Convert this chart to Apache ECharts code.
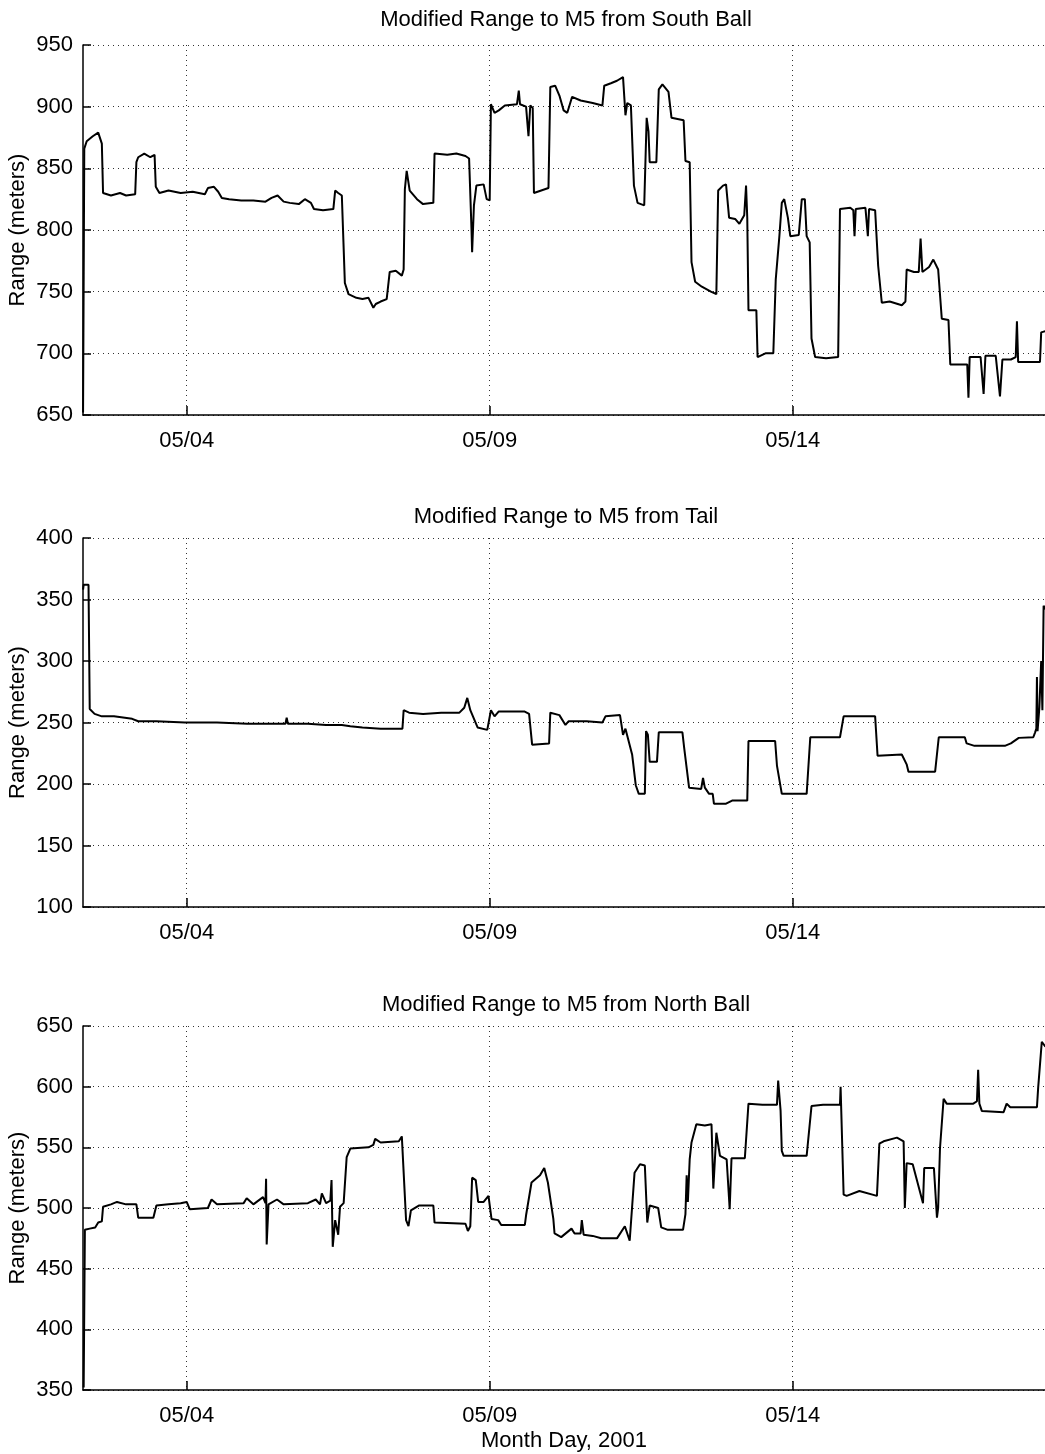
<!DOCTYPE html>
<html><head><meta charset="utf-8">
<script src="https://cdn.jsdelivr.net/npm/echarts@6/dist/echarts.min.js"></script>
<style>html,body{margin:0;padding:0;background:#fff}#c{width:1045px;height:1454px}</style>
</head><body><div id="c"></div>
<script>
// x values are day of May 2001 (fractional)
const xTickDays = [4, 9, 14];
const xTickLabels = ['05/04', '05/09', '05/14'];
const xMin = 2.289, xMax = 18.163;

const titles = ['Modified Range to M5 from South Ball', 'Modified Range to M5 from Tail', 'Modified Range to M5 from North Ball'];
const yName = 'Range (meters)';
const xName = 'Month Day, 2001';
const yRanges = [[650, 950], [100, 400], [350, 650]];

const southBall = [
[2.29,652],[2.31,866],[2.35,872],[2.45,876],[2.54,879],[2.60,870],[2.62,830],[2.75,828],[2.9,830],[3.0,828],[3.15,829],
[3.17,855],[3.2,859],[3.3,862],[3.4,859],[3.47,861],[3.49,835],[3.55,830],[3.7,832],[3.9,830],[4.1,831],[4.3,829],
[4.35,834],[4.45,835],[4.52,831],[4.58,826],[4.7,825],[4.9,824],[5.1,824],[5.3,823],[5.4,826],[5.5,828],[5.6,823],
[5.7,822],[5.85,821],[5.95,825],[6.05,822],[6.1,817],[6.25,816],[6.42,817],[6.45,832],[6.5,830],[6.56,828],[6.61,757],
[6.67,748],[6.8,745],[6.9,744],[7.0,745],[7.08,737],[7.12,740],[7.2,742],[7.3,744],[7.35,766],[7.45,767],[7.55,763],
[7.58,768],[7.6,833],[7.63,848],[7.68,832],[7.8,825],[7.9,821],[8.07,822],[8.09,862],[8.3,861],[8.45,862],[8.6,860],
[8.66,858],[8.7,800],[8.71,782],[8.74,820],[8.78,836],[8.9,837],[8.95,825],[9.0,824],[9.02,902],[9.08,895],[9.15,897],
[9.25,901],[9.45,902],[9.48,913],[9.5,902],[9.6,900],[9.64,876],[9.67,901],[9.71,899],[9.73,830],[9.85,832],[9.97,834],
[10.0,916],[10.08,917],[10.15,909],[10.22,897],[10.28,895],[10.36,908],[10.5,905],[10.7,903],[10.86,901],[10.89,917],
[11.0,919],[11.1,921],[11.2,924],[11.24,893],[11.27,903],[11.33,901],[11.38,836],[11.44,822],[11.55,820],[11.59,891],
[11.62,880],[11.64,855],[11.75,855],[11.79,914],[11.85,918],[11.95,912],[12.0,891],[12.2,889],[12.23,856],[12.3,855],
[12.33,774],[12.39,758],[12.5,754],[12.65,750],[12.74,748],[12.77,832],[12.85,836],[12.9,837],[12.95,810],[13.05,809],
[13.12,805],[13.2,812],[13.23,836],[13.25,810],[13.27,735],[13.4,735],[13.42,697],[13.55,700],[13.68,700],[13.72,760],
[13.78,795],[13.82,822],[13.86,825],[13.92,810],[13.96,795],[14.1,796],[14.15,825],[14.2,825],[14.23,795],[14.28,790],
[14.31,712],[14.37,697],[14.55,696],[14.75,697],[14.78,817],[14.95,818],[15.0,816],[15.02,795],[15.04,817],[15.2,818],
[15.24,795],[15.26,817],[15.36,816],[15.41,771],[15.47,741],[15.6,742],[15.8,739],[15.86,742],[15.88,768],[16.0,766],
[16.08,766],[16.11,793],[16.14,766],[16.25,770],[16.32,776],[16.4,768],[16.46,728],[16.57,727],[16.6,691],[16.75,691],
[16.88,691],[16.9,664],[16.92,697],[17.1,697],[17.15,667],[17.18,698],[17.35,698],[17.42,665],[17.46,695],[17.6,695],
[17.68,697],[17.7,726],[17.72,693],[17.9,693],[18.08,693],[18.1,717],[18.17,718]
];

const tail = [
[2.29,358],[2.3,362],[2.38,362],[2.4,261],[2.48,257],[2.6,255],[2.8,255],[3.1,253],[3.2,251],[3.5,251],[3.97,250],
[4.5,250],[5.0,249],[5.4,249],[5.63,249],[5.65,254],[5.67,249],[6.0,249],[6.3,248],[6.56,248],[6.7,247],[6.9,246],
[7.2,245],[7.5,245],[7.56,245],[7.58,260],[7.67,258],[7.9,257],[8.2,258],[8.5,258],[8.58,262],[8.63,270],[8.68,260],
[8.8,246],[8.96,244],[9.02,260],[9.08,255],[9.15,259],[9.4,259],[9.57,259],[9.65,257],[9.7,232],[9.98,233],[10.0,258],
[10.15,256],[10.25,248],[10.3,251],[10.6,251],[10.86,250],[10.91,255],[11.15,256],[11.2,240],[11.24,245],[11.35,224],
[11.41,199],[11.46,192],[11.56,192],[11.58,243],[11.61,240],[11.64,218],[11.76,218],[11.79,242],[12.18,242],[12.21,229],
[12.29,197],[12.49,196],[12.52,205],[12.55,197],[12.62,192],[12.68,192],[12.7,184],[12.9,184],[13.0,186.5],[13.25,186.5],
[13.27,235],[13.71,235],[13.74,215],[13.82,192],[14.23,192],[14.29,238],[14.78,238],[14.84,255],[15.36,255],[15.4,223],
[15.8,224],[15.88,216],[15.91,210],[16.35,210],[16.41,238],[16.84,238],[16.87,233],[17.0,231],[17.5,231],[17.6,233],
[17.73,237.5],[17.97,238],[18.0,242],[18.02,245],[18.03,287],[18.04,243],[18.07,262],[18.1,300],[18.12,260],[18.14,345],
[18.17,342]
];

const northBall = [
[2.30,352],[2.32,482],[2.4,483],[2.49,484],[2.54,488],[2.6,489],[2.62,501],[2.75,503],[2.85,505],[3.0,503],[3.17,503],
[3.2,492],[3.45,492],[3.5,502],[3.7,503],[3.9,504],[4.0,505],[4.05,499],[4.35,500],[4.41,507],[4.5,503],[4.94,504],
[4.99,508],[5.1,503],[5.26,509],[5.3,504],[5.31,524],[5.32,470],[5.35,503],[5.49,507],[5.6,503],[6.0,504],[6.13,507],
[6.2,503],[6.23,512],[6.3,504],[6.37,506],[6.39,523],[6.41,468],[6.45,490],[6.5,478],[6.53,501],[6.59,504],[6.64,542],
[6.7,549],[7.0,550],[7.08,552],[7.11,557],[7.2,554],[7.5,555],[7.55,559],[7.58,558],[7.62,490],[7.66,485],[7.7,498],
[7.83,502],[8.07,502],[8.09,488],[8.6,487],[8.64,481],[8.68,485],[8.71,525],[8.77,523],[8.81,505],[8.9,505],[8.98,510],
[9.03,491],[9.14,490],[9.19,486],[9.58,486],[9.6,494],[9.69,521],[9.83,527],[9.9,533],[9.96,521],[10.05,491],[10.07,479],
[10.18,476],[10.35,483],[10.4,479],[10.5,479],[10.52,490],[10.55,478],[10.7,477],[10.84,475],[11.1,475],[11.23,485],
[11.31,473],[11.39,529],[11.48,536],[11.56,535],[11.6,488],[11.64,502],[11.78,500],[11.83,484],[11.94,482],[12.19,482],
[12.23,495],[12.25,527],[12.27,505],[12.3,540],[12.33,554],[12.41,569],[12.55,568],[12.66,569],[12.69,516],[12.74,562],
[12.8,543],[12.91,540],[12.96,499],[12.99,541],[13.21,541],[13.27,586],[13.5,585],[13.74,585],[13.76,605],[13.8,580],
[13.82,547],[13.85,543],[14.23,543],[14.31,584],[14.5,585],[14.78,585],[14.79,600],[14.84,511],[14.89,510],[15.1,514],
[15.39,510],[15.43,553],[15.5,555],[15.72,558],[15.83,555],[15.85,500],[15.88,537],[15.98,536],[16.15,504],[16.17,533],
[16.33,533],[16.38,492],[16.4,500],[16.43,549],[16.49,590],[16.54,586],[16.98,586],[17.04,588],[17.06,614],[17.08,586],
[17.12,580],[17.48,579],[17.53,586],[17.59,583],[18.03,583],[18.05,599],[18.11,637],[18.17,633]
];

const seriesData = [southBall, tail, northBall];

const FONT = 'Liberation Sans, Arial, sans-serif';
const FS = 22;
const gridBoxes = [
  {left: 83, width: 962, top: 45, height: 370, containLabel: false, outerBoundsMode: 'none'},
  {left: 83, width: 962, top: 538, height: 369, containLabel: false, outerBoundsMode: 'none'},
  {left: 83, width: 962, top: 1026, height: 364, containLabel: false, outerBoundsMode: 'none'}
];
const titleTops = [9, 506, 994];

const option = {
  animation: false,
  backgroundColor: '#fff',
  title: titles.map((t, i) => ({
    text: t, left: 566, top: titleTops[i], textAlign: 'center', padding: 0,
    textStyle: {fontFamily: FONT, fontSize: FS, fontWeight: 'normal', color: '#000'}
  })),
  grid: gridBoxes,
  xAxis: gridBoxes.map((g, i) => ({
    type: 'value', gridIndex: i, min: xMin, max: xMax,
    name: i === 2 ? xName : '', nameLocation: 'middle', nameGap: 40, nameMoveOverlap: false,
    nameTextStyle: {fontFamily: FONT, fontSize: FS, color: '#000'},
    axisLine: {show: true, onZero: false, lineStyle: {color: '#000', width: 1.5}},
    axisTick: {show: true, inside: true, length: 9, customValues: xTickDays, lineStyle: {color: '#000', width: 1.5}},
    axisLabel: {show: true, customValues: xTickDays, margin: 15, fontFamily: FONT, fontSize: FS, color: '#000',
      formatter: v => { const k = xTickDays.indexOf(Math.round(v)); return k >= 0 ? xTickLabels[k] : ''; }},
    splitLine: {show: true, lineStyle: {color: '#333', width: 1, type: [1, 4]}}
  })),
  yAxis: gridBoxes.map((g, i) => ({
    type: 'value', gridIndex: i, min: yRanges[i][0], max: yRanges[i][1], interval: 50,
    name: yName, nameLocation: 'middle', nameGap: 54, nameRotate: 90, nameMoveOverlap: false,
    nameTextStyle: {fontFamily: FONT, fontSize: FS, color: '#000'},
    axisLine: {show: true, lineStyle: {color: '#000', width: 1.5}},
    axisTick: {show: true, inside: true, length: 8, lineStyle: {color: '#000', width: 1.5}},
    axisLabel: {margin: 10, fontFamily: FONT, fontSize: FS, color: '#000'},
    splitLine: {show: true, lineStyle: {color: '#333', width: 1, type: [1, 4]}}
  })),
  series: seriesData.map((d, i) => ({
    type: 'line', xAxisIndex: i, yAxisIndex: i, data: d, showSymbol: false,
    lineStyle: {color: '#000', width: 2}, clip: true
  }))
};
const chart = echarts.init(document.getElementById('c'), null, {renderer: 'canvas'});
chart.setOption(option);
</script>
</body></html>
